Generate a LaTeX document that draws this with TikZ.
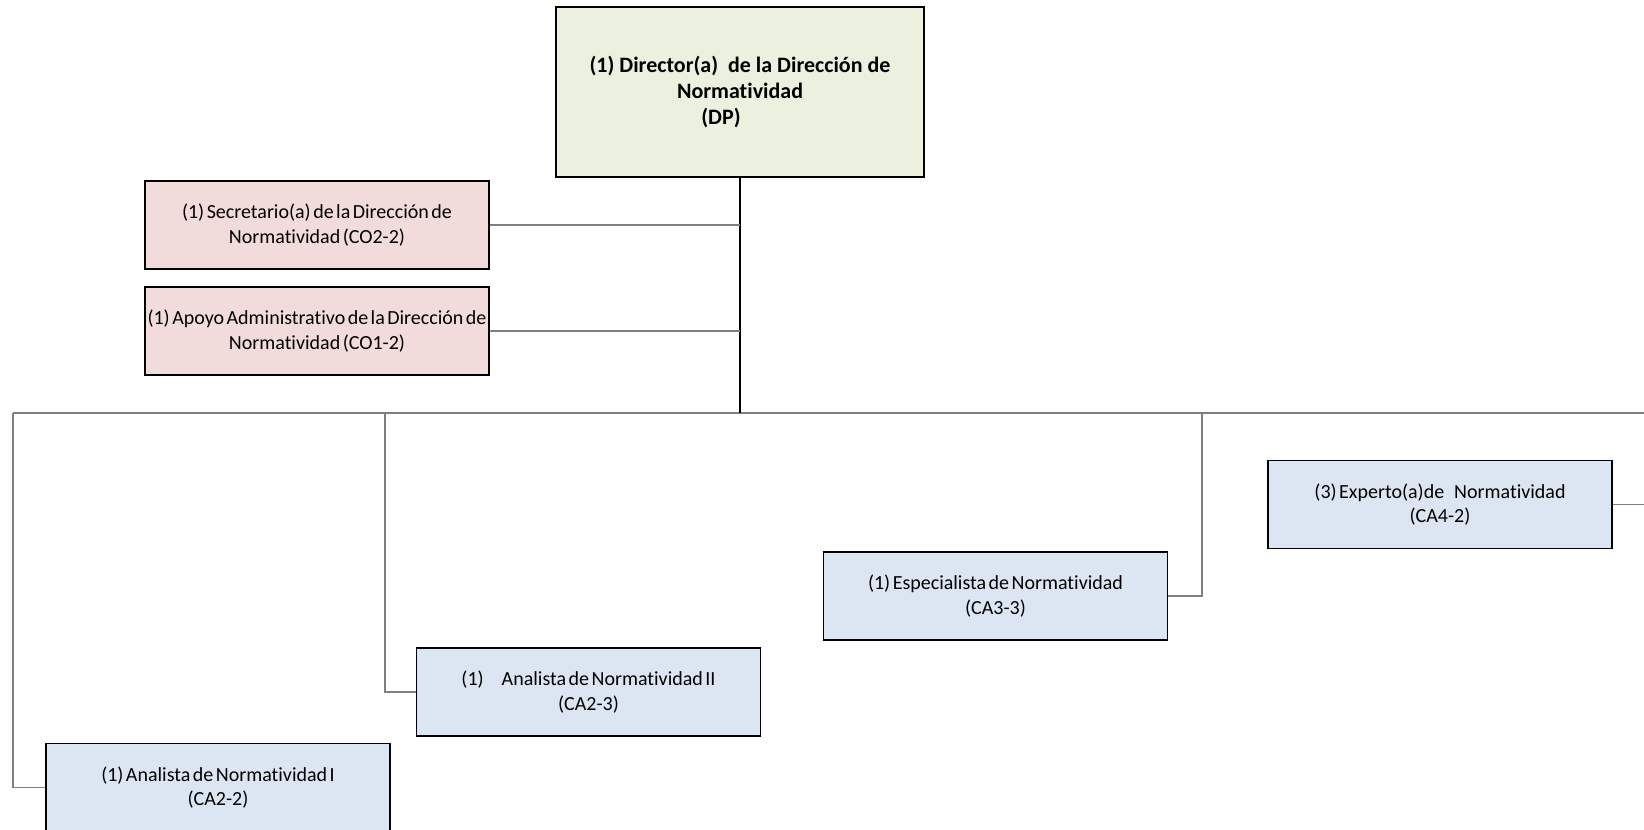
\documentclass[tikz,border=0pt]{standalone}
\usepackage{fontspec}
\setmainfont{Carlito}[Ligatures=NoCommon]
\newfontfamily\boxfont{Carlito}[Ligatures=NoCommon, WordSpace=0.55]
\definecolor{dirgreen}{HTML}{EBF1DE}
\definecolor{staffpink}{HTML}{F2DCDB}
\definecolor{teamblue}{HTML}{DCE6F2}
\definecolor{linegray}{HTML}{808080}
\begin{document}
\begin{tikzpicture}[x=0.5pt, y=-0.5pt,
  post/.style={draw, line width=0.75pt, align=center, inner sep=0pt, minimum width=172pt, minimum height=44pt, font=\boxfont\fontsize{10}{12.3}\selectfont},
  head/.style={post, fill=dirgreen, minimum width=184pt, minimum height=85pt, font=\fontsize{11}{12.8}\selectfont\bfseries},
  staff/.style={post, fill=staffpink},
  team/.style={post, fill=teamblue},
  trunk/.style={draw, line width=0.8pt},
  branch/.style={draw, linegray, line width=0.6pt}
]
  \useasboundingbox (0,0) rectangle (1644,830);
  \clip (0,0) rectangle (1644,830);

  \coordinate (bus) at (740,413);
  \coordinate (lft) at (13,413);
  \coordinate (mid) at (385,413);
  \coordinate (rgh) at (1202,413);
  \coordinate (out) at (1670,413);

  \draw[branch] (lft) -- (out);

  \node[head] (dir) at (740,92) {(1) Director(a)\ \ de la Dirección de\\Normatividad\\(DP)\hspace*{19pt}};
  \node[staff] (sec) at (317,225) {(1) Secretario(a) de la Dirección de\\Normatividad (CO2-2)};
  \node[staff] (apo) at (317,331) {(1) Apoyo Administrativo de la Dirección de\\Normatividad (CO1-2)};
  \node[team] (exp) at (1440,504.5) {(3) Experto(a)de\hspace{5pt}Normatividad\\(CA4-2)};
  \node[team] (esp) at (995.5,596) {(1) Especialista de Normatividad\\(CA3-3)};
  \node[team] (an2) at (588.5,692) {(1)\hspace{9pt}Analista de Normatividad II\\(CA2-3)};
  \node[team] (an1) at (218,787.5) {(1) Analista de Normatividad I\\(CA2-2)};

  \draw[trunk] (dir.south) -- (bus);
  \draw[branch] (sec.east) -- (sec.east -| dir.south);
  \draw[branch] (apo.east) -- (apo.east -| dir.south);
  \draw[branch] (lft) |- (an1.west);
  \draw[branch] (mid) |- (an2.west);
  \draw[branch] (rgh) |- (esp.east);
  \draw[branch] (out) |- (exp.east);
\end{tikzpicture}
\end{document}
